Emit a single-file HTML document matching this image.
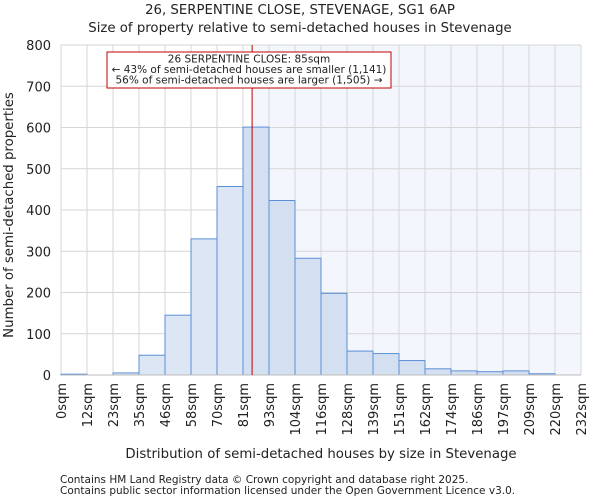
<!DOCTYPE html>
<html><head><meta charset="utf-8"><style>
body{margin:0;background:#fff;font-family:"DejaVu Sans","Liberation Sans",sans-serif;}
svg text{font-family:"DejaVu Sans","Liberation Sans",sans-serif;fill:#222;}
</style></head><body>
<svg id="chart" width="600" height="500" xmlns="http://www.w3.org/2000/svg">
<text x="300" y="14" text-anchor="middle" font-size="13.3">26, SERPENTINE CLOSE, STEVENAGE, SG1 6AP</text>
<text x="300" y="32" text-anchor="middle" font-size="13.3">Size of property relative to semi-detached houses in Stevenage</text>
<g id="plot"></g>
<text x="321" y="458" text-anchor="middle" font-size="13.3">Distribution of semi-detached houses by size in Stevenage</text>
<text transform="translate(13,215) rotate(-90)" text-anchor="middle" font-size="13.3">Number of semi-detached properties</text>
<text x="60" y="483" font-size="10.5" fill="#444">Contains HM Land Registry data © Crown copyright and database right 2025.</text>
<text x="60" y="494" font-size="10.5" fill="#444">Contains public sector information licensed under the Open Government Licence v3.0.</text>
</svg>
<script>
const categories=["0sqm","12sqm","23sqm","35sqm","46sqm","58sqm","70sqm","81sqm","93sqm","104sqm","116sqm","128sqm","139sqm","151sqm","162sqm","174sqm","186sqm","197sqm","209sqm","220sqm","232sqm"];
const counts=[2,0,5,48,145,330,457,601,423,283,198,58,52,35,15,10,8,10,3,0];
const yTicks=[0,100,200,300,400,500,600,700,800];
const markerBinPos=7.35;
const NS="http://www.w3.org/2000/svg";
const x0=61,x1=581,y0=375,y1=45,ymax=800;
const bw=(x1-x0)/counts.length;
const X=i=>x0+i*bw;
const Y=v=>y0-(v/ymax)*(y0-y1);
const g=document.getElementById('plot');
function mk(t,a){const e=document.createElementNS(NS,t);for(const k in a)e.setAttribute(k,a[k]);g.appendChild(e);return e;}
const mx=X(markerBinPos);
let e=mk('rect',{x:mx,y:y1,width:x1-mx,height:y0-y1,fill:'#f3f6fd'});


yTicks.forEach(t=>{
 let l=mk('line',{x1:x0,x2:x1,y1:Y(t),y2:Y(t),stroke:'#d6d6d6'});
 
 
 let tx=mk('text',{x:x0-10,y:Y(t)+5,'text-anchor':'end','font-size':'13'});
 tx.textContent=t;
 
 
});
categories.forEach((c,i)=>{
 let l=mk('line',{x1:X(i),x2:X(i),y1:y1,y2:y0,stroke:'#d6d6d6'});
 
 
 let tx=mk('text',{transform:`translate(${X(i)+5},${y0+8}) rotate(-90)`,'text-anchor':'end','font-size':'13'});
 tx.textContent=c;
 
 
});
counts.forEach((v,i)=>{
 let r=mk('rect',{x:X(i),y:Y(v),width:bw,height:y0-Y(v),fill:i+0.5>markerBinPos?'#d4e0f2':'#dce6f5',stroke:'#5b8fd6','stroke-width':1});
 
 
});
e=mk('line',{x1:x0,x2:x1,y1:y0,y2:y0,stroke:'#bbb'});


e=mk('line',{x1:mx,x2:mx,y1:y1,y2:y0,stroke:'#c00000','stroke-width':1});


e=mk('rect',{x:107,y:52,width:284,height:36,fill:'#fff',stroke:'#c00000'});


["26 SERPENTINE CLOSE: 85sqm","← 43% of semi-detached houses are smaller (1,141)","56% of semi-detached houses are larger (1,505) →"].forEach((s,i)=>{
 let t=mk('text',{x:249,y:62.5+i*10.5,'text-anchor':'middle','font-size':'10.5'});
 t.textContent=s;
 
 
});
</script>
</body></html>
